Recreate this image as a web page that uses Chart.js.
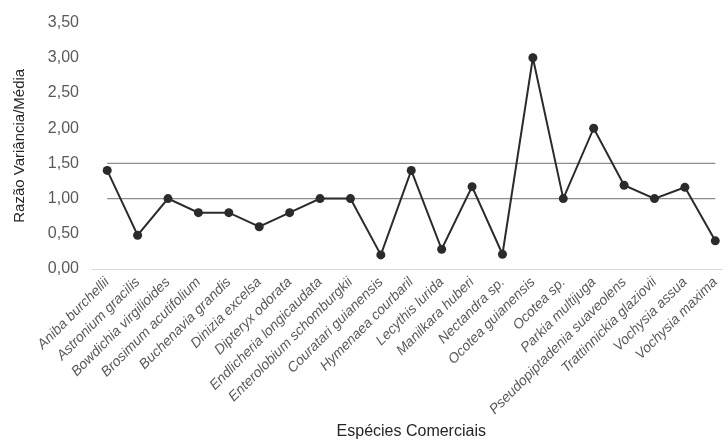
<!DOCTYPE html>
<html lang="pt">
<head>
<meta charset="utf-8">
<title>Razão Variância/Média por espécie</title>
<script src="https://cdn.jsdelivr.net/npm/chart.js@4/dist/chart.umd.min.js"></script>
<style>
  html, body { margin: 0; padding: 0; background: #ffffff; overflow: hidden; }
  #wrap { position: relative; width: 735px; height: 441px; }
</style>
</head>
<body>
<div id="wrap"><canvas id="chart"></canvas></div>
<script>
// Espécies comerciais (eixo X)
const species = [
  'Aniba burchellii', 'Astronium gracilis', 'Bowdichia virgilioides',
  'Brosimum acutifolium', 'Buchenavia grandis', 'Dinizia excelsa',
  'Dipteryx odorata', 'Endlicheria longicaudata', 'Enterolobium schomburgkii',
  'Couratari guianensis', 'Hymenaea courbaril', 'Lecythis lurida',
  'Manilkara huberi', 'Nectandra sp.', 'Ocotea guianensis', 'Ocotea sp.',
  'Parkia multijuga', 'Pseudopiptadenia suaveolens', 'Trattinnickia glaziovii',
  'Vochysia assua', 'Vochysia maxima'
];

// Razão variância/média de cada espécie
const ratio = [
  1.40, 0.48, 1.00, 0.80, 0.80, 0.60, 0.80, 1.00, 1.00, 0.20, 1.40,
  0.28, 1.17, 0.21, 3.00, 1.00, 2.00, 1.19, 1.00, 1.16, 0.40
];

// Eixo Y
const yTicks = [0, 0.5, 1.0, 1.5, 2.0, 2.5, 3.0, 3.5];

// Linhas de referência
const refLower = 1.0;
const refUpper = 1.5;

const first = species[0];
const last = species[species.length - 1];

const family = 'Arial, "Liberation Sans", sans-serif';

new Chart(document.getElementById('chart'), {
  type: 'line',
  data: {
    labels: species,
    datasets: [
      {
        label: 'Razão Variância/Média',
        data: ratio,
        borderColor: '#2b2b2b',
        backgroundColor: '#2b2b2b',
        borderWidth: 2,
        pointRadius: 4.5,
        pointBorderWidth: 0,
        pointBackgroundColor: '#2b2b2b',
        tension: 0,
        fill: false
      },
      {
        label: 'Limite superior',
        data: [{ x: first, y: refUpper }, { x: last, y: refUpper }],
        borderColor: '#8c8c8c',
        borderWidth: 1.2,
        pointRadius: 0,
        fill: false
      },
      {
        label: 'Limite inferior',
        data: [{ x: first, y: refLower }, { x: last, y: refLower }],
        borderColor: '#8c8c8c',
        borderWidth: 1.2,
        pointRadius: 0,
        fill: false
      }
    ]
  },
  options: {
    responsive: true,
    maintainAspectRatio: false,
    animation: false,
    layout: { padding: { top: 19, left: 0, right: 0, bottom: 0 } },
    plugins: {
      legend: { display: false },
      tooltip: { enabled: false }
    },
    scales: {
      x: {
        type: 'category',
        offset: true,
        grid: { display: false, drawTicks: false },
        border: { display: true, color: '#d9d9d9', width: 1 },
        ticks: {
          autoSkip: false,
          minRotation: 45,
          maxRotation: 45,
          padding: 5,
          color: '#595959',
          font: { family, size: 14, style: 'italic' }
        },
        title: {
          display: true,
          text: 'Espécies Comerciais',
          color: '#262626',
          font: { family, size: 16 },
          padding: { top: 0, bottom: 0 }
        },
        afterFit(scale) { scale.height = 172; }
      },
      y: {
        min: 0,
        max: 3.5,
        afterBuildTicks(scale) { scale.ticks = yTicks.map(v => ({ value: v })); },
        grid: { display: false, drawTicks: false },
        border: { display: false },
        ticks: {
          padding: 13,
          color: '#595959',
          font: { family, size: 16 },
          callback: v => Number(v).toFixed(2).replace('.', ',')
        },
        title: {
          display: true,
          text: 'Razão Variância/Média',
          color: '#262626',
          font: { family, size: 15 },
          padding: { top: 11, bottom: 0 }
        },
        afterFit(scale) { scale.width = 92; }
      }
    }
  }
});
</script>
</body>
</html>
